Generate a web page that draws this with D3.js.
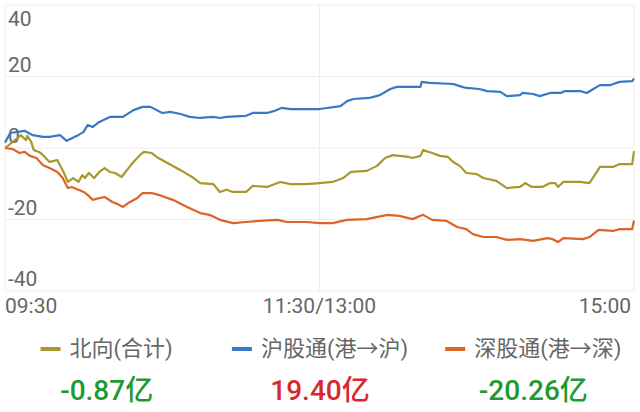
<!DOCTYPE html>
<meta charset="utf-8">
<head>
<script src="https://d3js.org/d3.v7.min.js"></script>
<style>
body { margin: 0; background: #fff; }
text { font-family: Roboto, "Noto Sans CJK SC", sans-serif; }
</style>
</head>
<body>
<div id="chart"></div>
<script>
// trading minutes since 09:30 (0..240, lunch break removed) and values in 亿
var northData = [[0,0],[3,1.7],[6,3.6],[8,2.2],[8.5,3.4],[10,1.7],[11,-0.6],[13,-1.1],[14.5,-2.0],[17,-3.9],[20,-3.4],[22,-6.2],[24,-9.5],[26,-8.4],[28,-9.5],[29.5,-7.6],[30.5,-8.4],[32,-7.0],[34,-8.4],[36,-6.7],[38,-5.6],[40,-6.7],[42,-7.0],[44.5,-8.1],[46.5,-6.2],[49,-3.9],[51.5,-2.0],[53,-1.1],[56,-1.4],[58.5,-2.8],[62,-4.2],[67,-6.2],[72,-8.4],[74.5,-9.8],[79.5,-10.1],[82,-12.3],[84.5,-11.7],[87,-12.3],[92,-12.3],[94.5,-10.6],[100,-10.9],[105,-9.5],[109,-10.1],[115,-10.1],[120,-9.8],[125,-9.5],[129,-8.4],[132,-6.7],[138,-6.4],[142,-5.0],[145,-2.8],[148,-2.0],[154,-2.5],[155.5,-2.8],[158.5,-2.2],[159.5,-0.6],[163,-1.4],[166,-2.2],[169,-2.5],[171,-3.9],[173.5,-5.0],[176,-7.0],[180,-7.3],[182.5,-8.4],[187.5,-9.2],[191.5,-11.2],[196.5,-10.9],[198.5,-9.8],[201,-10.9],[205,-10.9],[208,-9.8],[210,-9.8],[211,-10.9],[213,-9.5],[219.5,-9.5],[223,-9.8],[225,-7.6],[227,-5.3],[232,-5.3],[234.5,-4.5],[239.3,-4.5],[240,-0.87]];

var shData = [[0,1.5],[2,4.2],[7.5,4.8],[10.5,3.6],[14.5,3.1],[17,3.1],[21,3.6],[23.5,2.0],[27.5,3.4],[30,4.5],[31.5,6.4],[33.5,5.9],[36,7.3],[40,8.7],[45,8.7],[49,10.6],[52.5,11.5],[55.5,11.5],[60,9.8],[63,10.1],[67,9.5],[70.5,8.7],[74.5,8.4],[79.5,8.7],[82,8.4],[84.5,8.7],[92,9.0],[94.5,9.8],[100,9.8],[102.5,10.3],[105.5,11.2],[109,10.9],[120,10.9],[128,11.7],[130.5,13.1],[133,13.7],[139,14.0],[143,14.8],[147,16.5],[149.5,17.1],[158.5,17.1],[159,18.5],[162,18.2],[171,17.9],[173.5,17.3],[176,16.8],[181,16.5],[184,15.9],[189,15.7],[191.5,14.5],[196.5,14.8],[197.5,15.4],[201.5,15.1],[204,14.5],[208,15.4],[212,15.4],[213.5,15.9],[219.5,15.9],[222,15.4],[224.5,16.5],[227,17.6],[231,17.6],[234.5,18.5],[239.3,18.7],[240,19.40]];

var szData = [[0,0],[3,-0.3],[5.5,-1.4],[7.5,-1.1],[9.5,-2.2],[12,-2.8],[14.5,-4.8],[17,-5.6],[20,-6.7],[22,-8.4],[24,-11.2],[25.5,-10.9],[28,-11.7],[30,-12.3],[31.5,-13.1],[33.5,-14.5],[36,-14.0],[38,-13.7],[41,-15.1],[43,-15.7],[45,-16.5],[47,-15.4],[50.5,-14.0],[52.5,-12.6],[56,-12.6],[58.5,-13.1],[64,-14.5],[69.5,-16.5],[74.5,-18.2],[78,-18.7],[82,-20.1],[87,-21.0],[92,-20.7],[97,-20.4],[104,-20.1],[107.5,-20.7],[115,-20.7],[120,-21.0],[125,-21.0],[130.5,-20.1],[138,-19.9],[146,-18.7],[150.5,-19.0],[155.5,-19.9],[159.5,-18.7],[163,-20.1],[168.5,-20.4],[172.5,-22.1],[176,-22.7],[178.5,-24.1],[182.5,-24.9],[187.5,-24.9],[191.5,-25.7],[196.5,-25.5],[201.5,-26.0],[207,-25.2],[209,-25.5],[211,-26.3],[213,-25.2],[220.5,-25.5],[223,-24.9],[226.5,-22.9],[232,-23.2],[234.5,-22.7],[239.3,-22.7],[240,-20.26]];

var seriesNames = ["北向(合计)", "沪股通(港→沪)", "深股通(港→深)"];
var seriesColors = ["#a9982b", "#3a78c5", "#de6326"];
var totals = ["-0.87亿", "19.40亿", "-20.26亿"];
var totalColors = ["#1e9a2e", "#d8282e", "#1e9a2e"];

var yTicks = [-40, -20, 0, 20, 40];
var xTicks = [0, 120, 240];
var xTickLabels = ["09:30", "11:30/13:00", "15:00"];

var W = 640, H = 412;
var plot = {left: 5, right: 634, top: 5, bottom: 291};

var svg = d3.select("#chart").append("svg")
    .attr("width", W)
    .attr("height", H);

var x = d3.scaleLinear().domain([0, 240]).range([plot.left, plot.right]);
var y = d3.scaleLinear().domain([-40, 40]).range([plot.bottom, plot.top]);

// grid
svg.append("g").selectAll("line")
  .data(yTicks)
  .enter().append("line")
    .attr("x1", plot.left).attr("x2", plot.right)
    .attr("y1", function(d) { return y(d); })
    .attr("y2", function(d) { return y(d); })
    .attr("stroke", "#eeeeee")
    .attr("stroke-width", 1);

svg.append("g").selectAll("line")
  .data(xTicks)
  .enter().append("line")
    .attr("x1", function(d) { return x(d); })
    .attr("x2", function(d) { return x(d); })
    .attr("y1", plot.top).attr("y2", plot.bottom)
    .attr("stroke", "#eeeeee")
    .attr("stroke-width", 1);

// y labels, inside the plot, above their grid line (top one below)
svg.append("g").selectAll("text")
  .data(yTicks)
  .enter().append("text")
    .attr("x", 8)
    .attr("y", function(d) { return d === 40 ? y(d) + 21 : y(d) - 5; })
    .attr("fill", "#666")
    .style("font-size", "21px")
    .text(function(d) { return d; });

// lines
var line = d3.line()
  .x(function(d) { return x(d[0]); })
  .y(function(d) { return y(d[1]); });

[northData, shData, szData].forEach(function(data, i) {
  svg.append("path")
    .datum(data)
    .attr("fill", "none")
    .attr("stroke", seriesColors[i])
    .attr("stroke-width", 2.2)
    .attr("stroke-linejoin", "round")
    .attr("d", line);
});

// x labels
svg.append("g").selectAll("text")
  .data(xTicks)
  .enter().append("text")
    .attr("x", function(d, i) { return i === 2 ? x(d) - 3 : x(d); })
    .attr("y", 313)
    .attr("text-anchor", function(d, i) { return ["start", "middle", "end"][i]; })
    .attr("fill", "#666")
    .style("font-size", "21px")
    .text(function(d, i) { return xTickLabels[i]; });

// legend + totals, three columns
seriesNames.forEach(function(name, i) {
  var cx = W * (2 * i + 1) / 6;
  var g = svg.append("g");
  var txt = g.append("text")
    .attr("y", 356)
    .attr("fill", "#666")
    .style("font-size", "22px")
    .text(name);
  var tw = txt.node().getComputedTextLength();
  var total = 20 + 9 + tw;
  var x0 = cx - total / 2;
  g.append("rect")
    .attr("x", x0).attr("y", 347)
    .attr("width", 20).attr("height", 4)
    .attr("fill", seriesColors[i]);
  txt.attr("x", x0 + 29);

  svg.append("text")
    .attr("x", cx)
    .attr("y", 400)
    .attr("text-anchor", "middle")
    .attr("fill", totalColors[i])
    .style("font-size", "28px")
    .style("font-weight", "500")
    .text(totals[i]);
});
</script>
</body>
</html>
